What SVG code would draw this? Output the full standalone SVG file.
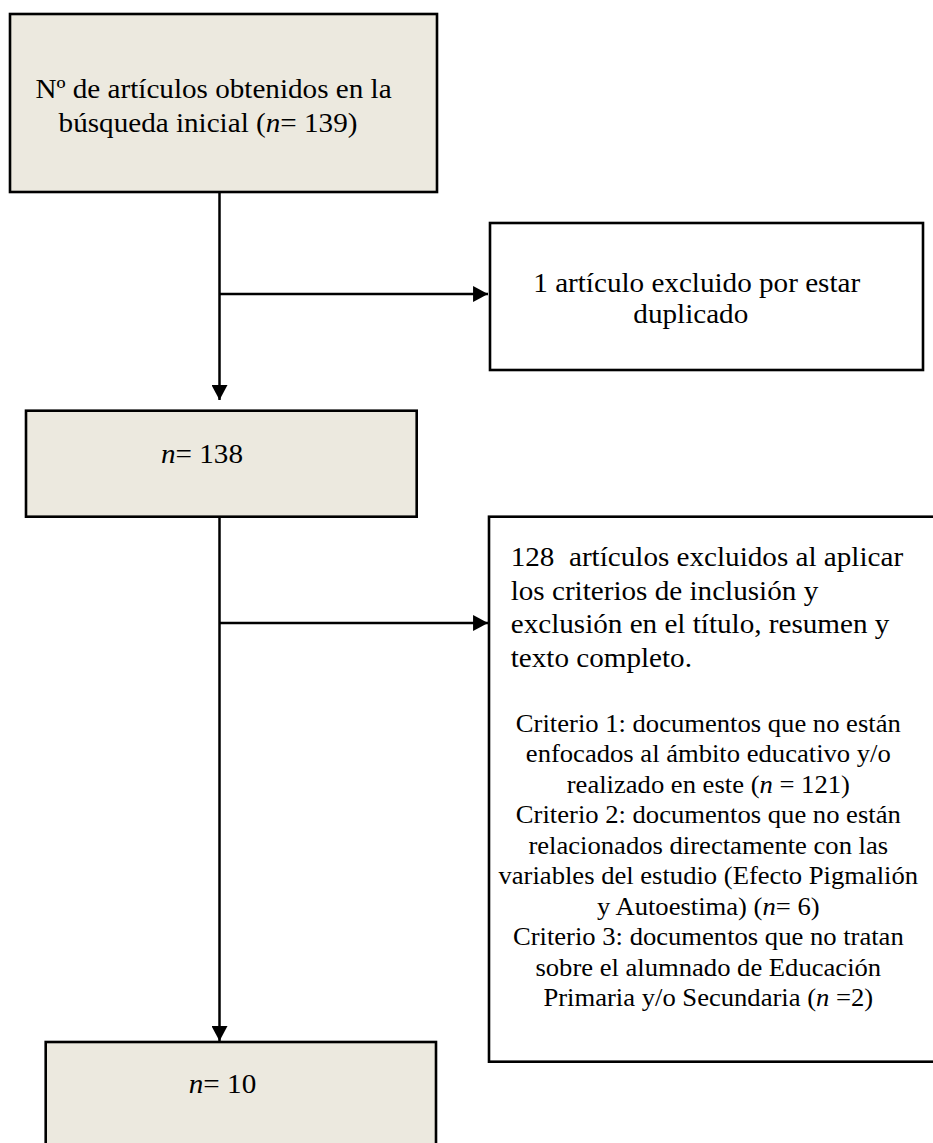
<svg xmlns="http://www.w3.org/2000/svg" width="933" height="1143" viewBox="0 0 933 1143">
<defs>
<style>
.box{stroke:#000;stroke-width:2.6;}
.shade{fill:#ECE9DF;}
.plain{fill:#FFFFFF;}
.t{font-family:"Liberation Serif","Times New Roman",serif;font-size:26.5px;fill:#000;}
.c{font-family:"Liberation Serif","Times New Roman",serif;font-size:24.2px;fill:#000;}
.conn{stroke:#000;stroke-width:2.5;fill:none;}
</style>
<marker id="arr" markerUnits="userSpaceOnUse" markerWidth="16" markerHeight="16" viewBox="0 0 14 15" refX="14" refY="7.5" orient="auto">
<path d="M0,0 L14,7.5 L0,15 Z" fill="#000"/>
</marker>
</defs>
<rect width="933" height="1143" fill="#FFFFFF"/>

<g id="connectors">
<line class="conn" x1="219.5" y1="192" x2="219.5" y2="400" marker-end="url(#arr)"/>
<line class="conn" x1="219.5" y1="294" x2="488" y2="294" marker-end="url(#arr)"/>
<line class="conn" x1="219.5" y1="517" x2="219.5" y2="1041" marker-end="url(#arr)"/>
<line class="conn" x1="219.5" y1="623" x2="488" y2="623" marker-end="url(#arr)"/>
</g>

<g id="node-inicial">
<rect class="box shade" x="10" y="14" width="427" height="178"/>
<text class="t" text-anchor="middle" transform="translate(213.5,98) scale(1.1,1)" x="0" y="0">Nº de artículos obtenidos en la</text>
<text class="t" text-anchor="middle" transform="translate(208,131.5) scale(1.1,1)" x="0" y="0">búsqueda inicial (<tspan font-style="italic">n</tspan>= 139)</text>
</g>

<g id="node-duplicado">
<rect class="box plain" x="490" y="223" width="433" height="147"/>
<text class="t" text-anchor="middle" transform="translate(696.7,291.7) scale(1.1,1)" x="0" y="0">1 artículo excluido por estar</text>
<text class="t" text-anchor="middle" transform="translate(690.8,323.3) scale(1.1,1)" x="0" y="0">duplicado</text>
</g>

<g id="node-138">
<rect class="box shade" x="26" y="410.7" width="390.7" height="106"/>
<text class="t" text-anchor="middle" transform="translate(202,463.3) scale(1.1,1)" x="0" y="0"><tspan font-style="italic">n</tspan>= 138</text>
</g>

<g id="node-excluidos">
<rect class="box plain" x="489" y="516.7" width="460" height="545"/>
<g transform="translate(510.7,0) scale(1.1,1)">
<text class="t" x="0" y="566" style="white-space:pre">128  artículos excluidos al aplicar</text>
<text class="t" x="0" y="600">los criterios de inclusión y</text>
<text class="t" x="0" y="633.3">exclusión en el título, resumen y</text>
<text class="t" x="0" y="666.7">texto completo.</text>
</g>
<g transform="translate(708.3,0) scale(1.1,1)" text-anchor="middle">
<text class="c" x="0" y="732">Criterio 1: documentos que no están</text>
<text class="c" x="0" y="762.5">enfocados al ámbito educativo y/o</text>
<text class="c" x="0" y="793">realizado en este (<tspan font-style="italic">n</tspan> = 121)</text>
<text class="c" x="0" y="823.5">Criterio 2: documentos que no están</text>
<text class="c" x="0" y="854">relacionados directamente con las</text>
<text class="c" x="0" y="884.5">variables del estudio (Efecto Pigmalión</text>
<text class="c" x="0" y="915">y Autoestima) (<tspan font-style="italic">n</tspan>= 6)</text>
<text class="c" x="0" y="945.5">Criterio 3: documentos que no tratan</text>
<text class="c" x="0" y="976">sobre el alumnado de Educación</text>
<text class="c" x="0" y="1006.5">Primaria y/o Secundaria (<tspan font-style="italic">n</tspan> =2)</text>
</g>
</g>

<g id="node-10">
<rect class="box shade" x="45.7" y="1042" width="390.3" height="120"/>
<text class="t" text-anchor="middle" transform="translate(222.5,1093) scale(1.1,1)" x="0" y="0"><tspan font-style="italic">n</tspan>= 10</text>
</g>
</svg>
